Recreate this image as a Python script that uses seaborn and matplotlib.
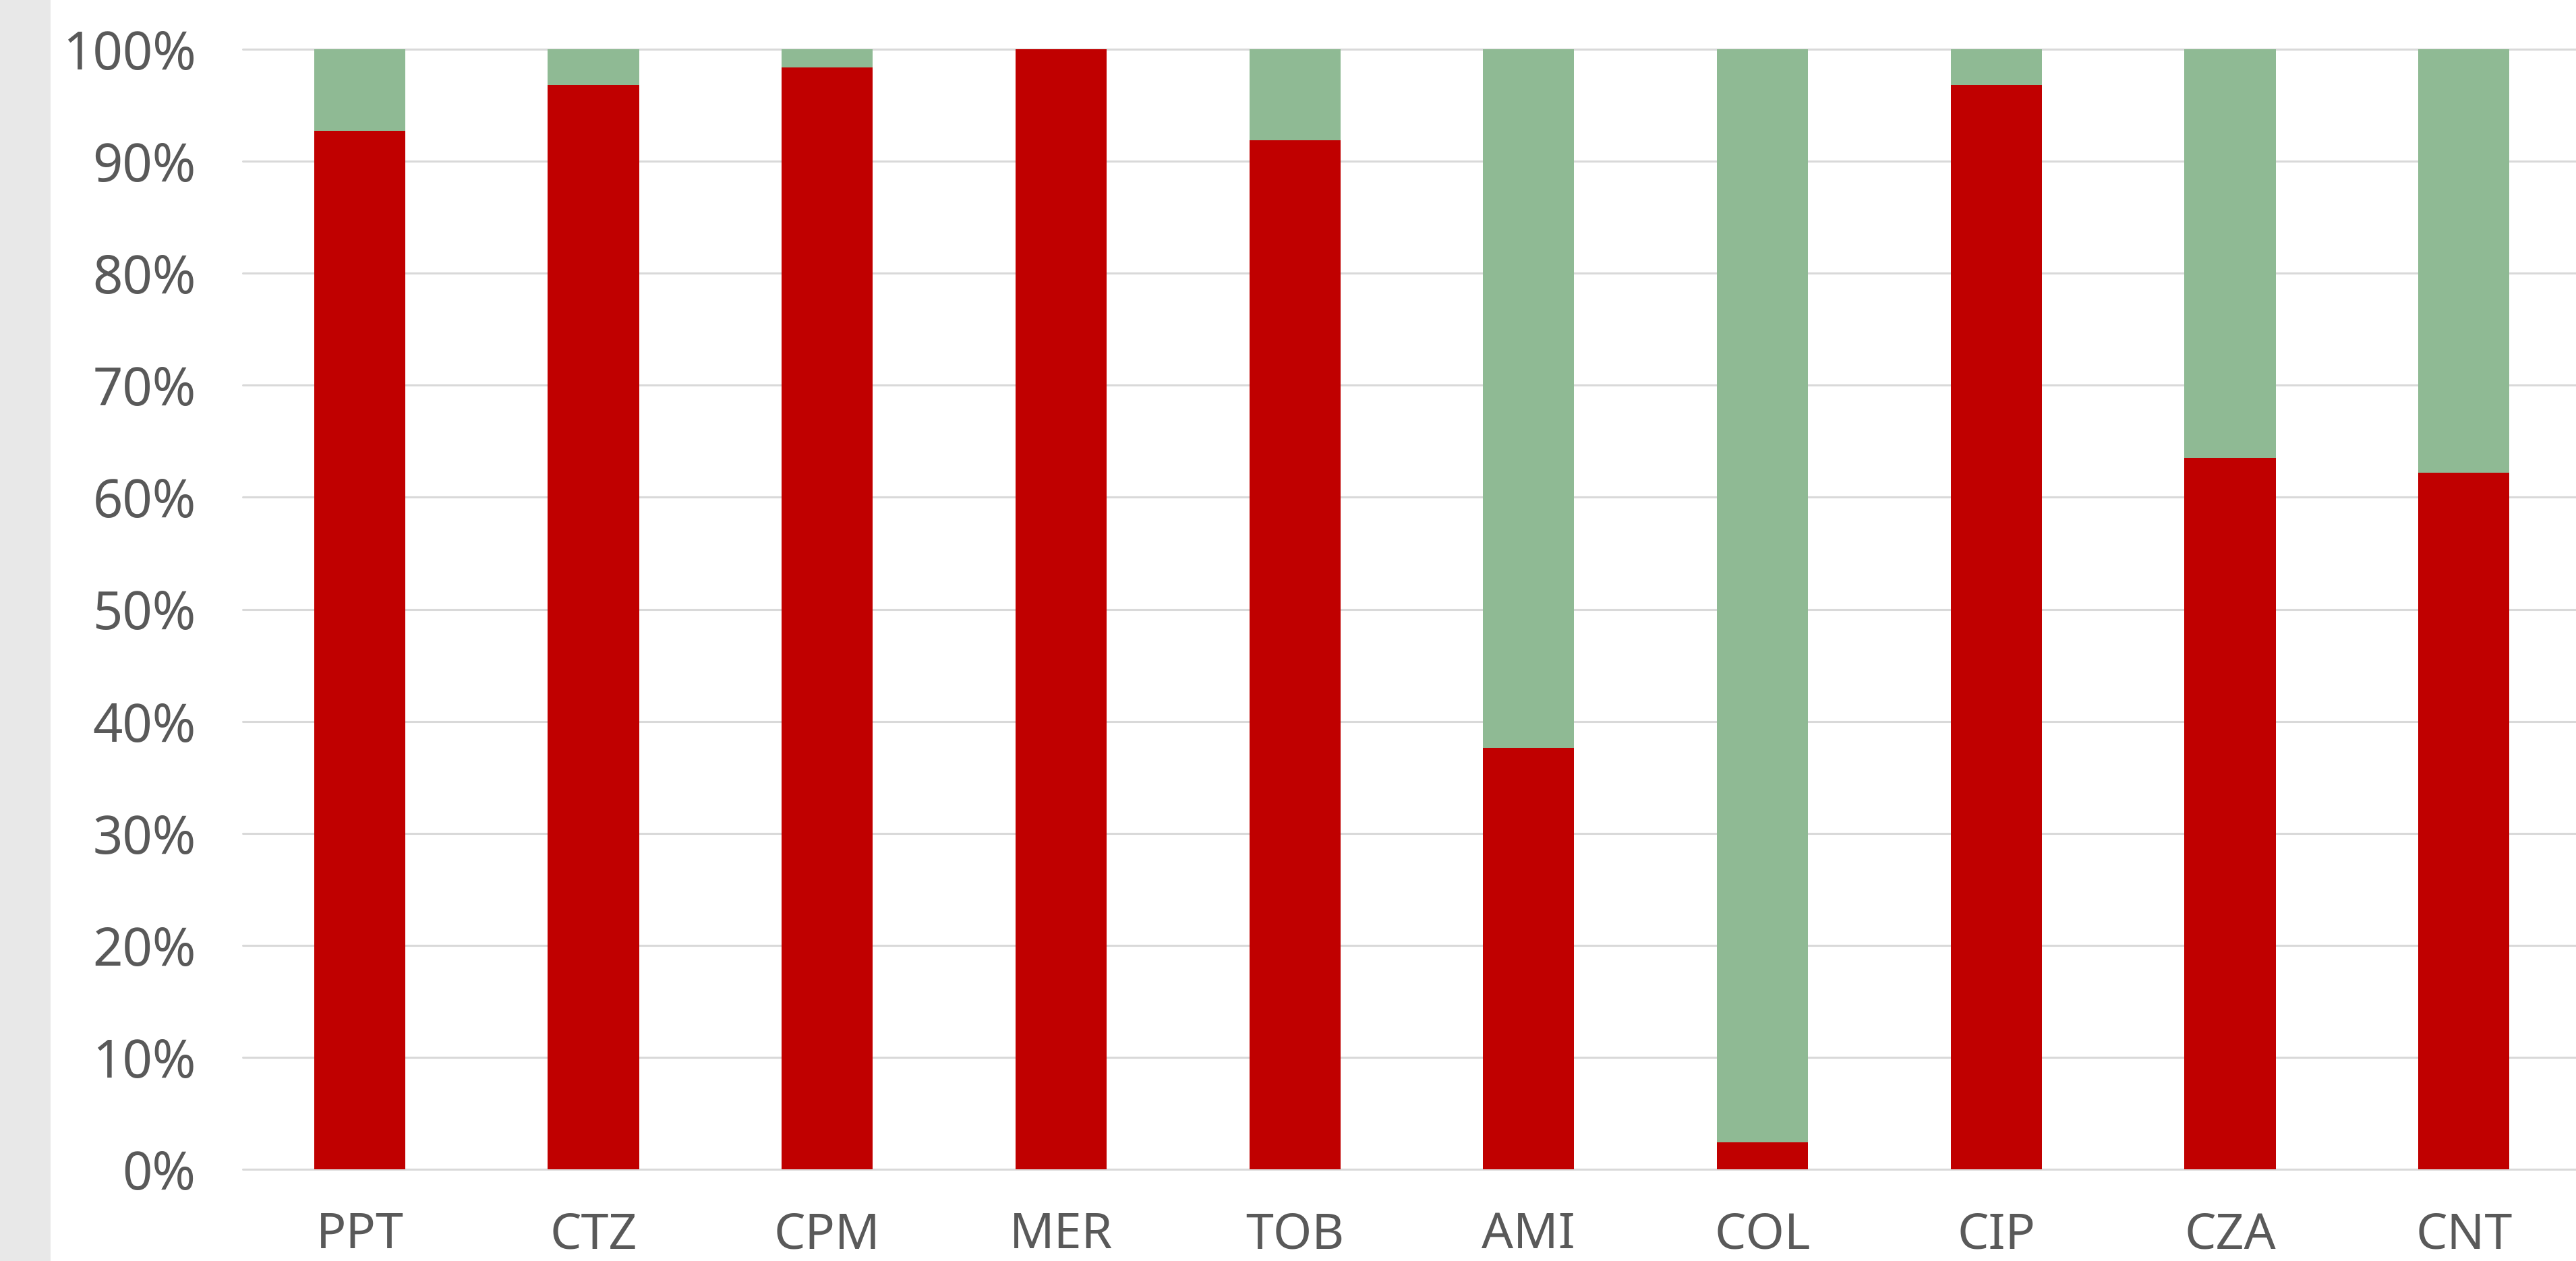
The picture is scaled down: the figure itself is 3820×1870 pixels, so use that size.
import pandas as pd
import matplotlib.pyplot as plt
import seaborn as sns
from matplotlib.ticker import PercentFormatter
from matplotlib.patches import Rectangle

# Share of each category (percent)
categories = ['PPT', 'CTZ', 'CPM', 'MER', 'TOB', 'AMI', 'COL', 'CIP', 'CZA', 'CNT']
red_share = [92.7, 96.8, 98.4, 100.0, 91.9, 37.6, 2.4, 96.8, 63.5, 62.2]
green_share = [100 - v for v in red_share]
y_ticks = [0, 10, 20, 30, 40, 50, 60, 70, 80, 90, 100]

RED = '#C00000'
GREEN = '#8FBA94'
TEXT = '#595959'


def build_frame():
    df = pd.DataFrame({'Category': categories, 'Red': red_share, 'Green': green_share})
    df['Total'] = df['Red'] + df['Green']
    return df


def visualize_data(df):
    sns.set_style('white')
    plt.rcParams['font.family'] = ['Noto Sans', 'DejaVu Sans']

    fig = plt.figure(figsize=(38.2, 18.7), dpi=100)
    fig.patches.append(Rectangle((0, 0), 75 / 3820, 1, transform=fig.transFigure,
                                 facecolor='#E8E8E8', edgecolor='none', zorder=0))
    ax = fig.add_axes([360 / 3820, 1 - 1734 / 1870, 3467 / 3820, (1734 - 73) / 1870])

    # stacked: full bar in green, red portion drawn over it
    sns.barplot(x='Category', y='Total', data=df, color=GREEN, width=0.39,
                saturation=1, linewidth=0, ax=ax)
    sns.barplot(x='Category', y='Red', data=df, color=RED, width=0.39,
                saturation=1, linewidth=0, ax=ax)

    ax.set_xlim(-0.5, len(categories) - 0.5)
    ax.set_ylim(0, 100)
    ax.set_yticks(y_ticks)
    ax.yaxis.set_major_formatter(PercentFormatter(decimals=0))
    ax.set_axisbelow(True)
    ax.grid(axis='y', color='#D9D9D9', linewidth=2.2)
    for line in ax.get_ygridlines():
        line.set_clip_on(False)
    for s in ax.spines.values():
        s.set_visible(False)

    ax.set_xlabel('')
    ax.set_ylabel('')
    ax.tick_params(axis='y', length=0, pad=50, labelsize=56, labelcolor=TEXT)
    ax.tick_params(axis='x', length=0, pad=44, labelsize=53, labelcolor=TEXT)

    fig.savefig('out.png', dpi=100)


if __name__ == "__main__":
    df = build_frame()
    visualize_data(df)
